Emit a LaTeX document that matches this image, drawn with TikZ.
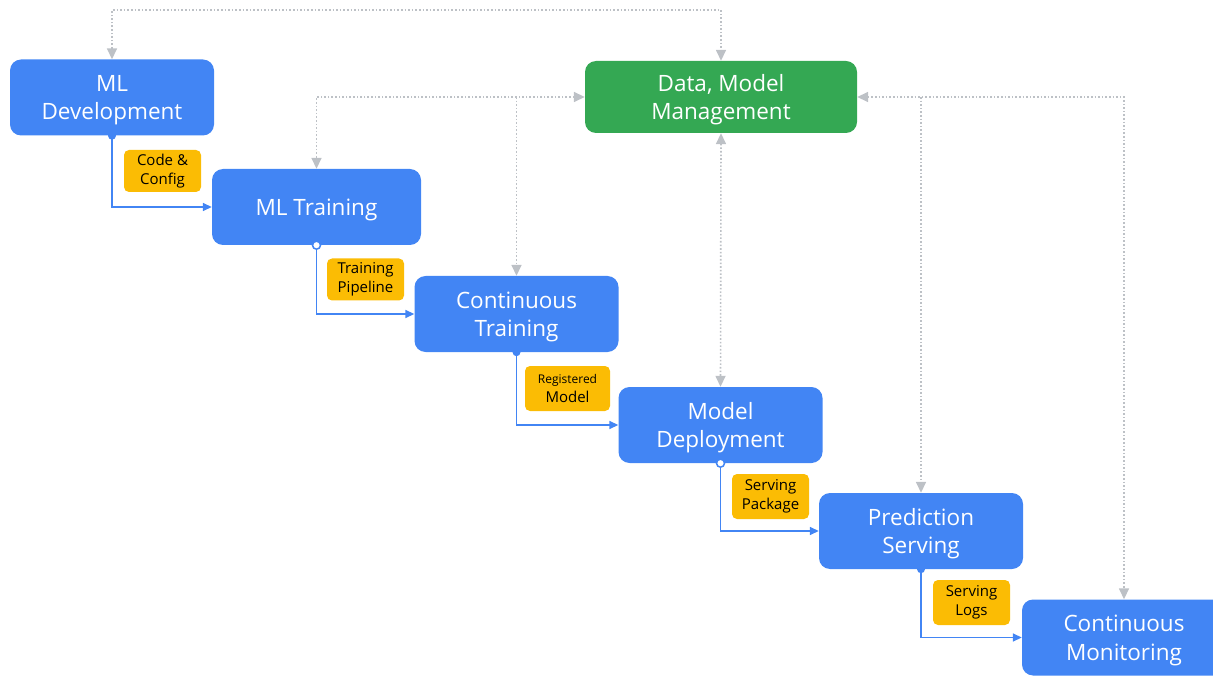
\documentclass[tikz,border=0pt]{standalone}
\usepackage{fontspec}
\setmainfont{Open Sans}
\usetikzlibrary{arrows.meta}
\definecolor{gblue}{HTML}{4285F4}
\definecolor{ggreen}{HTML}{34A853}
\definecolor{gyellow}{HTML}{FBBC04}
\definecolor{ggray}{HTML}{BDC1C6}
\tikzset{
  stage/.style={rectangle, rounded corners=11pt, fill=gblue, text=white,
    minimum width=204pt, minimum height=76pt, align=center, inner sep=0pt,
    font=\fontsize{22.5}{28.5}\selectfont, text depth=0pt},
  mgmt/.style={stage, fill=ggreen, minimum width=272pt, minimum height=72pt},
  tag/.style={rectangle, rounded corners=5pt, fill=gyellow, text=black,
    minimum width=77pt, minimum height=42pt, align=center, inner sep=0pt,
    font=\fontsize{15}{19}\selectfont},
  flow/.style={draw=gblue, line width=1.5pt, -{Triangle[length=9pt,width=8pt]}},
  sync/.style={draw=ggray, line width=1.6pt, dotted,
    {Triangle[length=11pt,width=10pt]}-{Triangle[length=11pt,width=10pt]}},
  syncone/.style={draw=ggray, line width=1.6pt, dotted,
    -{Triangle[length=11pt,width=10pt]}},
  fdot/.style={circle, fill=gblue, minimum size=8pt, inner sep=0pt},
  odot/.style={circle, draw=gblue, line width=1.5pt, fill=white, minimum size=8pt, inner sep=0pt},
}
\begin{document}
\begin{tikzpicture}[x=1pt,y=-1pt]
\useasboundingbox (0,0) rectangle (1213,676);
\clip (0,0) rectangle (1213,676);
\node[stage] (dev) at (112,97.5) {ML\\Development};
\node[stage, minimum width=209pt] (train) at (316.5,207) {ML Training};
\node[stage] (ct) at (516.5,314) {Continuous\\Training};
\node[stage] (md) at (720.5,425) {Model\\Deployment};
\node[stage] (ps) at (921,531) {Prediction\\Serving};
\node[stage] (cm) at (1124,637.5) {Continuous\\Monitoring};
\node[mgmt] (dmm) at (721,97) {Data, Model\\Management};

\node[tag] (t1) at (162.5,171) {Code \&\\Config};
\node[tag] (t2) at (365.5,279.5) {Training\\Pipeline};
\node[tag, minimum width=85pt, minimum height=45pt] (t3) at (567.5,388.5) {{\fontsize{12}{14}\selectfont Registered}\\Model};
\node[tag, minimum height=45pt] (t4) at (770.5,496.5) {Serving\\Package};
\node[tag, minimum height=45pt] (t5) at (971.5,602.5) {Serving\\Logs};

% main flow
\draw[flow] (dev.south) |- (train.west);
\draw[flow] (train.south) |- (ct.west);
\draw[flow] (ct.south) |- (md.west);
\draw[flow] (md.south) |- (ps.west);
\draw[flow] (ps.south) |- (cm.west);
\node[fdot] (d1) at (dev.south) {};
\node[odot] (d2) at (train.south) {};
\node[fdot] (d3) at (ct.south) {};
\node[odot] (d4) at (md.south) {};
\node[fdot] (d5) at (ps.south) {};

% management links
\coordinate (topl) at (112,10);
\draw[sync] (dev.north) -- (topl) -| (dmm.north);
\draw[sync] (dmm.west) -| (train.north);
\draw[syncone] (ct.north |- dmm.west) -- (ct.north);
\draw[sync] (dmm.south) -- (md.north);
\draw[sync] (dmm.east) -| (cm.north);
\draw[syncone] (ps.north |- dmm.east) -- (ps.north);
\end{tikzpicture}
\end{document}
